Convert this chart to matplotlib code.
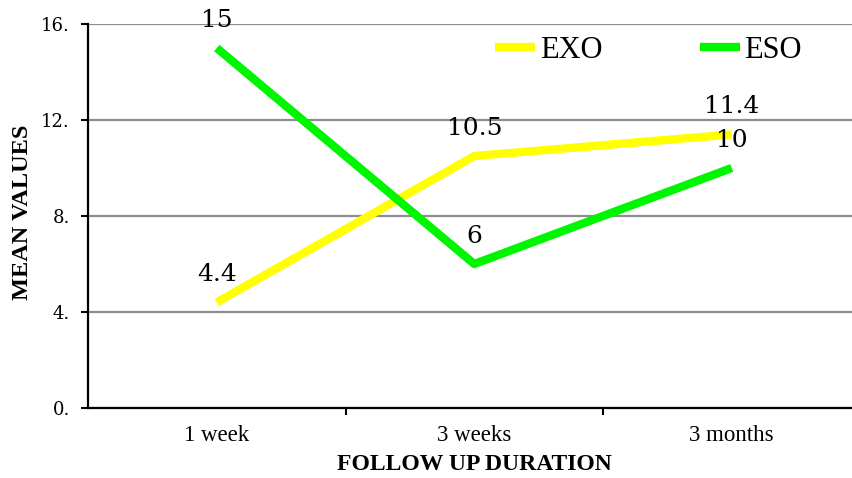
import matplotlib
matplotlib.use("Agg")
import matplotlib.pyplot as plt
from matplotlib.ticker import FixedLocator

categories = ["1 week", "3 weeks", "3 months"]
exo = [4.4, 10.5, 11.4]
eso = [15, 6, 10]
exo_labels = ["4.4", "10.5", "11.4"]
eso_labels = ["15", "6", "10"]
yticks = [0, 4, 8, 12, 16]
ytick_labels = ["0.", "4.", "8.", "12.", "16."]

plt.rcParams['font.family'] = ['Liberation Serif', 'DejaVu Serif']
NUM_FONT = ['DejaVu Serif', 'Liberation Serif']

fig = plt.figure(figsize=(8.53, 4.78), dpi=100)
ax = fig.add_axes([88/853, 70/478, 1 - 88/853, (408-24)/478])

x = list(range(len(categories)))
ax.plot(x, exo, color="#FFFF00", lw=6, solid_capstyle="butt", label="EXO", zorder=3)
ax.plot(x, eso, color="#00F500", lw=6, solid_capstyle="butt", label="ESO", zorder=3)

for xi, v, t in zip(x, exo, exo_labels):
    ax.annotate(t, (xi, v), xytext=(0, 20), textcoords="offset points",
                ha="center", va="center", fontsize=18, family=NUM_FONT, zorder=5)
for xi, v, t in zip(x, eso, eso_labels):
    ax.annotate(t, (xi, v), xytext=(0, 20), textcoords="offset points",
                ha="center", va="center", fontsize=18, family=NUM_FONT, zorder=5)

ax.set_xlim(-0.5, -0.5 + (853 - 88) / 257.5)
ax.set_ylim(0, 16)
ax.set_yticks(yticks)
ax.set_yticklabels(ytick_labels, fontsize=13, family=NUM_FONT)
ax.set_xticks(x)
ax.set_xticklabels(categories, fontsize=16.5)
ax.xaxis.set_minor_locator(FixedLocator([0.5, 1.5]))
ax.tick_params(axis="x", which="major", length=0, pad=12)
ax.tick_params(axis="x", which="minor", length=5, width=1.5, direction="out")
ax.tick_params(axis="y", length=5, width=1.5, direction="out", pad=8)

ax.grid(axis="y", color="#8c8c8c", lw=1.6, zorder=1)
ax.set_axisbelow(True)
for s in ["top", "right"]:
    ax.spines[s].set_visible(False)
for s in ["left", "bottom"]:
    ax.spines[s].set_linewidth(1.6)
    ax.spines[s].set_color("black")
    ax.spines[s].set_zorder(4)

ax.set_ylabel("MEAN VALUES", fontsize=17.5, fontweight="bold", va="center")
ax.yaxis.set_label_coords((23 - 88) / 765, (408 - 212) / 384)
ax.set_xlabel("FOLLOW UP DURATION", fontsize=17, fontweight="bold", va="center")
ax.xaxis.set_label_coords((474 - 88) / 765, (408 - 464) / 384)

leg = fig.legend(loc="center left", bbox_to_anchor=(495/853, 1 - 50/478),
                 ncol=2, frameon=False, fontsize=22, borderpad=0, borderaxespad=0,
                 handlelength=1.3, handletextpad=0.16, columnspacing=3.2)

fig.savefig("out.png", dpi=100)
